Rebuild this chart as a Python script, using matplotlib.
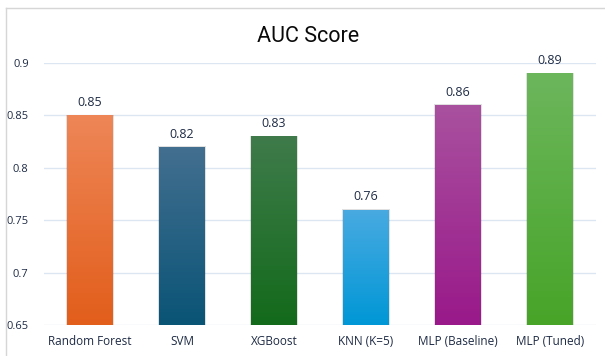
import matplotlib
matplotlib.use("Agg")
import matplotlib.pyplot as plt
import numpy as np
from matplotlib.colors import LinearSegmentedColormap
from matplotlib.patches import Rectangle
from matplotlib.lines import Line2D

models = ["Random Forest", "SVM", "XGBoost", "KNN (K=5)", "MLP (Baseline)", "MLP (Tuned)"]
auc = [0.85, 0.82, 0.83, 0.76, 0.86, 0.89]
y_ticks = [0.65, 0.7, 0.75, 0.8, 0.85, 0.9]
y_tick_labels = ["0.65", "0.7", "0.75", "0.8", "0.85", "0.9"]
# (top colour, bottom colour) for each bar's vertical gradient
bar_gradients = [
    ("#EE8657", "#E25E1B"),
    ("#436F90", "#0A5476"),
    ("#3F7B4B", "#136A1B"),
    ("#49AAE1", "#0097D6"),
    ("#A9519F", "#99198A"),
    ("#6CB65C", "#47A428"),
]

text_color = "#1E2B45"
plt.rcParams["font.family"] = ["Open Sans", "DejaVu Sans"]

W, H = 605, 356
fig = plt.figure(figsize=(W / 100, H / 100), dpi=100)
ax = fig.add_axes([44 / W, 1 - 325 / H, (596 - 44) / W, (325 - 63) / H])

ymin, ymax = 0.65, 0.9
ax.set_xlim(-0.5, len(models) - 0.5)
ax.set_ylim(ymin, ymax)

bar_w = 0.5
for i, (val, (c_top, c_bot)) in enumerate(zip(auc, bar_gradients)):
    x0 = i - bar_w / 2
    # soft shadow behind the bar
    shadow = Rectangle((x0 - 0.012, ymin), bar_w + 0.024, val - ymin + 0.0008,
                       facecolor="#000000", alpha=0.12, edgecolor="none", zorder=2)
    ax.add_patch(shadow)
    rect = Rectangle((x0, ymin), bar_w, val - ymin, facecolor="none",
                     edgecolor="none", zorder=3)
    ax.add_patch(rect)
    cmap = LinearSegmentedColormap.from_list(f"g{i}", [c_bot, c_top])
    grad = np.linspace(0, 1, 256).reshape(-1, 1)
    im = ax.imshow(grad, cmap=cmap, aspect="auto", origin="lower",
                   extent=(x0, x0 + bar_w, ymin, val), zorder=3)
    im.set_clip_path(rect)
    ax.text(i, val + 0.006, f"{val:.2f}", ha="center", va="bottom",
            fontsize=9, color=text_color, zorder=4, clip_on=False)

ax.set_aspect("auto")
ax.set_xlim(-0.5, len(models) - 0.5)
ax.set_ylim(ymin, ymax)

ax.set_yticks(y_ticks)
ax.set_yticklabels(y_tick_labels)
ax.set_xticks(range(len(models)))
ax.set_xticklabels(models)
ax.tick_params(axis="both", length=0, colors=text_color, labelsize=8)
ax.tick_params(axis="y", pad=11)
ax.tick_params(axis="x", pad=7, labelsize=8.5)

ax.yaxis.grid(True, color="#DCE6F2", linewidth=1.0, zorder=0)
ax.set_axisbelow(True)
for s in ax.spines.values():
    s.set_visible(False)

fig.text(308 / W, 1 - 36 / H, "AUC Score", ha="center", va="center",
         fontsize=15.5, color="#0A0A0A", family=["Roboto", "DejaVu Sans"])

# light frame around the chart area
fig.add_artist(Line2D([6 / W, 1.0], [1 - 8 / H, 1 - 8 / H], transform=fig.transFigure,
                      color="#D6D6D6", linewidth=1.0))
fig.add_artist(Line2D([6 / W, 6 / W], [0.0, 1 - 8 / H], transform=fig.transFigure,
                      color="#D6D6D6", linewidth=1.0))

fig.savefig("out.png", dpi=100)
